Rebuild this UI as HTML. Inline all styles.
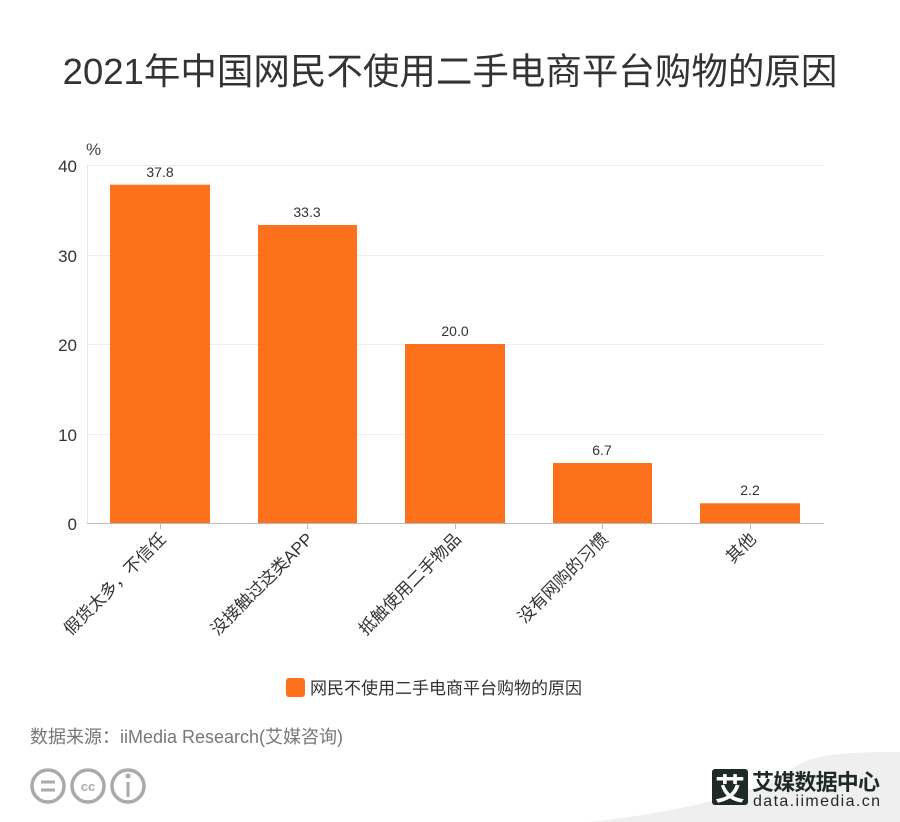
<!DOCTYPE html>
<html><head><meta charset="utf-8"><style>
body{margin:0;background:#fff;}
svg{display:block;font-family:"Liberation Sans","Noto Sans CJK SC",sans-serif;}
</style></head><body>
<svg width="900" height="822" viewBox="0 0 900 822" xmlns="http://www.w3.org/2000/svg">
<text x="450" y="84" text-anchor="middle" font-size="36.5" fill="#333">2021年中国网民不使用二手电商平台购物的原因</text>
<text x="86" y="155" font-size="17" fill="#444">%</text>
<g stroke="#eee" stroke-width="1">
<line x1="87" y1="165.5" x2="824" y2="165.5"/>
<line x1="87" y1="255.5" x2="824" y2="255.5"/>
<line x1="87" y1="344.5" x2="824" y2="344.5"/>
<line x1="87" y1="434.5" x2="824" y2="434.5"/>
</g>
<line x1="87.5" y1="165" x2="87.5" y2="523" stroke="#e6e6e6"/>
<g font-size="17" fill="#333" text-anchor="end">
<text x="77" y="172">40</text><text x="77" y="262">30</text><text x="77" y="351">20</text><text x="77" y="441">10</text><text x="77" y="530">0</text>
</g>
<g fill="#fd711d">
<rect x="110" y="184.7" width="100" height="338.3"/>
<rect x="258" y="225" width="99" height="298"/>
<rect x="405" y="344" width="100" height="179"/>
<rect x="553" y="463" width="99" height="60"/>
<rect x="700" y="503.3" width="100" height="19.7"/>
</g>
<line x1="87" y1="523.5" x2="824" y2="523.5" stroke="#bbb"/>
<g stroke="#bbb"><line x1="160.5" y1="523" x2="160.5" y2="529"/><line x1="307.5" y1="523" x2="307.5" y2="529"/><line x1="455.5" y1="523" x2="455.5" y2="529"/><line x1="602.5" y1="523" x2="602.5" y2="529"/><line x1="750.5" y1="523" x2="750.5" y2="529"/></g>
<g font-size="14" fill="#333" text-anchor="middle">
<text x="160" y="177">37.8</text><text x="307" y="217">33.3</text><text x="455" y="336">20.0</text><text x="602" y="455">6.7</text><text x="750" y="495">2.2</text>
</g>
<g font-size="17" fill="#333" text-anchor="end">
<text transform="translate(167,540) rotate(-45)">假货太多，不信任</text>
<text transform="translate(314,540) rotate(-45)">没接触过这类APP</text>
<text transform="translate(462,540) rotate(-45)">抵触使用二手物品</text>
<text transform="translate(609,540) rotate(-45)">没有网购的习惯</text>
<text transform="translate(757,540) rotate(-45)">其他</text>
</g>
<rect x="286" y="678" width="19" height="19" rx="3" fill="#fd711d"/>
<text x="310" y="694" font-size="17" fill="#333">网民不使用二手电商平台购物的原因</text>
<text x="30" y="743" font-size="18" fill="#777">数据来源：iiMedia Research(艾媒咨询)</text>
<g stroke="#aaa" stroke-width="3.5" fill="none">
<circle cx="48" cy="786" r="16"/><circle cx="88" cy="786" r="16"/><circle cx="128" cy="786" r="16"/>
</g>
<g stroke="#aaa" stroke-width="3"><line x1="41" y1="782" x2="55" y2="782"/><line x1="41" y1="790" x2="55" y2="790"/><line x1="128" y1="782" x2="128" y2="797"/></g>
<circle cx="128" cy="776" r="2.5" fill="#aaa"/>
<text x="88" y="791" font-size="13" font-weight="bold" fill="#aaa" text-anchor="middle">cc</text>
<path d="M590 822 C680 812 750 795 790 770 C810 757 825 752 900 752 L900 822 Z" fill="#efefef"/>
<rect x="712" y="769" width="36" height="36" rx="3" fill="#1f2a27"/>
<text x="730" y="800" font-size="30" font-weight="bold" fill="#fff" text-anchor="middle">艾</text>
<text x="752" y="790" font-size="22" font-weight="bold" fill="#1f2a27" textLength="128">艾媒数据中心</text>
<text x="753" y="806" font-size="16" fill="#1f2a27" textLength="127">data.iimedia.cn</text>
</svg>
</body></html>
